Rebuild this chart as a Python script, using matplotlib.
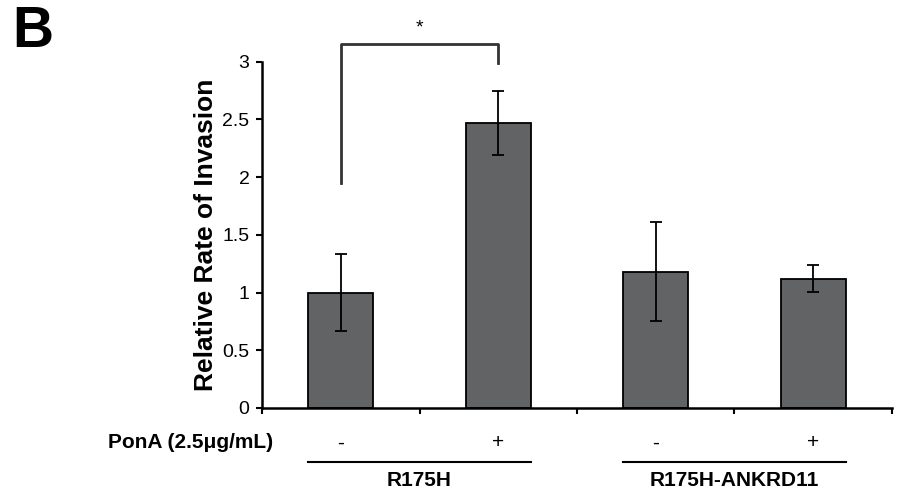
import matplotlib
matplotlib.use("Agg")
import matplotlib.pyplot as plt
import matplotlib.transforms as mtransforms

plt.rcParams['font.family'] = ['Liberation Sans', 'DejaVu Sans']

# data
ponA = ["-", "+", "-", "+"]
groups = ["R175H", "R175H-ANKRD11"]
rates = [1.0, 2.47, 1.18, 1.12]
errs = [0.33, 0.275, 0.43, 0.115]
bar_color = "#626365"

fig = plt.figure(figsize=(8.98, 4.97), dpi=100)
ax = fig.add_axes([262/898, 1 - 408/497, (892 - 262)/898, (408 - 61.7)/497])

xpos = [i + 0.5 for i in range(len(rates))]
ax.bar(xpos, rates, width=0.41, color=bar_color, edgecolor="black", linewidth=1.3, zorder=2)
ax.errorbar(xpos, rates, yerr=errs, fmt="none", ecolor="black", elinewidth=1.3,
            capsize=4.5, capthick=1.3, zorder=3)

ax.set_xlim(0, 4)
ax.set_ylim(0, 3)
ax.set_xticks([0, 1, 2, 3, 4])
ax.set_xticklabels([])
ax.set_yticks([0, 0.5, 1, 1.5, 2, 2.5, 3])
ax.set_yticklabels(["0", "0.5", "1", "1.5", "2", "2.5", "3"])
ax.tick_params(axis="both", direction="out", length=4, width=1.5, labelsize=14, pad=5)
for s in ["top", "right"]:
    ax.spines[s].set_visible(False)
for s in ["left", "bottom"]:
    ax.spines[s].set_linewidth(1.8)

ax.set_ylabel("Relative Rate of Invasion", fontsize=19, fontweight="bold", labelpad=3)

# significance bracket
ax.plot([0.5, 0.5, 1.5, 1.5], [1.95, 3.155, 3.155, 2.99], color="#333333", lw=2, clip_on=False)
ax.text(1.0, 3.22, "*", ha="center", va="bottom", fontsize=14, clip_on=False)

# treatment row and group labels below axis
trans = mtransforms.blended_transform_factory(ax.transData, ax.transAxes)
for x, s in zip(xpos, ponA):
    ax.text(x, -0.101, s, transform=trans, ha="center", va="center", fontsize=15)
ax.text(0.07, -0.101, "PonA (2.5μg/mL)", transform=trans, ha="right", va="center",
        fontsize=15, fontweight="bold")
for i, g in enumerate(groups):
    x0 = 2 * i + 0.29
    x1 = 2 * i + 1.71
    ax.plot([x0, x1], [-0.156, -0.156], transform=trans, color="black", lw=1.5, clip_on=False)
    ax.text(2 * i + 1, -0.21, g, transform=trans, ha="center", va="center",
            fontsize=15, fontweight="bold")

fig.text(12/898, 1 - 32/497, "B", fontsize=41, fontweight="bold", ha="left", va="center")

fig.savefig("out.png", dpi=100)
